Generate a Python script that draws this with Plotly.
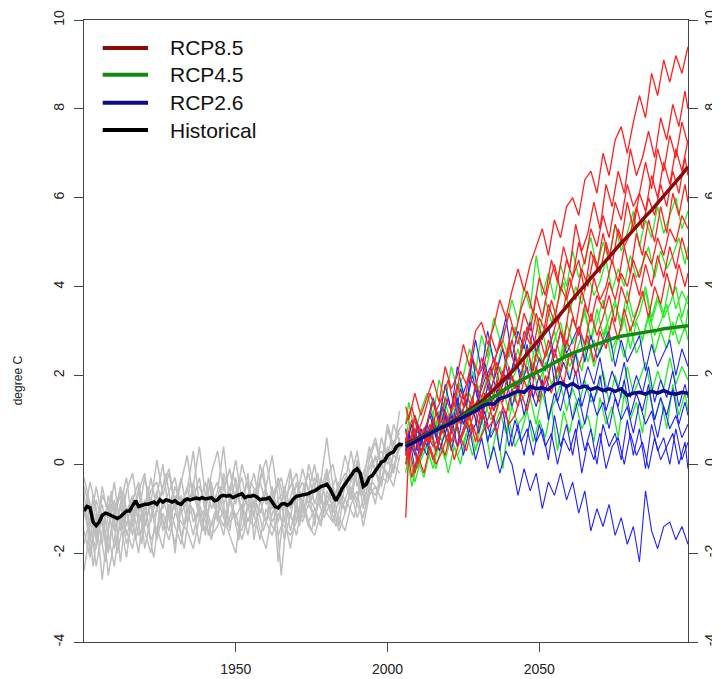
import plotly.graph_objects as go

# ---------------- data ----------------
hist_years = list(range(1900, 2006))
hist_mean = [
    -1.05, -0.95, -0.98, -1.30, -1.38, -1.30, -1.15, -1.10, -1.12, -1.15,
    -1.20, -1.22, -1.18, -1.10, -1.05, -1.05, -0.95, -0.82, -0.95, -0.92,
    -0.90, -0.90, -0.88, -0.85, -0.90, -0.80, -0.85, -0.80, -0.82, -0.85,
    -0.82, -0.88, -0.90, -0.82, -0.78, -0.80, -0.78, -0.76, -0.78, -0.75,
    -0.78, -0.76, -0.75, -0.82, -0.80, -0.72, -0.70, -0.72, -0.70, -0.75,
    -0.72, -0.68, -0.66, -0.75, -0.72, -0.72, -0.70, -0.74, -0.80, -0.78,
    -0.78, -0.75, -0.85, -0.95, -0.98, -0.90, -0.88, -0.92, -0.88, -0.78,
    -0.72, -0.70, -0.70, -0.68, -0.66, -0.62, -0.60, -0.55, -0.50, -0.48,
    -0.45, -0.55, -0.70, -0.82, -0.70, -0.55, -0.45, -0.35, -0.25, -0.15,
    -0.10, -0.20, -0.50, -0.45, -0.30, -0.25, -0.15, -0.05, 0.05, 0.08,
    0.20, 0.25, 0.28, 0.40, 0.45, 0.43,
]

hist_years_even = list(range(1900, 2005, 2))
hist_years_odd = list(range(1901, 2006, 2))
hist_members_even = [
    [-0.3, -0.9, -1.6, -0.5, -1.2, -0.4, -1.5, -0.6, -0.2, -1.1, -0.3, -0.9, 0.1, -0.7, -0.2, -1.0, -0.4, 0.2, -0.8, -0.3,
     -1.1, -0.2, 0.3, -0.6, -0.1, -0.9, 0.0, -0.5, -1.2, -0.3, 0.1, -0.7, -0.4, -1.3, -0.2, -0.8, -0.1, -0.6, 0.0, -0.9,
     -0.2, -1.1, -0.5, 0.2, -0.3, 0.3, -0.6, 0.1, 0.5, -0.1, 0.8, 0.3, 1.2],
    [-1.8, -1.2, -2.3, -1.5, -0.9, -1.9, -1.3, -2.1, -1.0, -1.6, -1.4, -0.8, -1.7, -1.1, -1.5, -0.7, -1.6, -1.2, -1.0, -1.8,
     -0.9, -1.4, -1.1, -1.6, -0.8, -1.3, -1.5, -0.9, -1.1, -1.7, -1.0, -1.4, -1.6, -1.2, -1.9, -1.0, -1.3, -0.9, -1.2, -0.7,
     -1.1, -1.3, -0.8, -1.0, -0.6, -0.9, -1.2, -0.5, -0.7, -0.3, -0.4, 0.0, -0.2],
    [-0.6, -2.0, -1.1, -2.6, -1.4, -0.8, -2.2, -1.0, -1.6, -0.5, -1.9, -1.2, -0.6, -1.5, -0.9, -2.0, -0.7, -1.3, -0.4, -1.1,
     -1.6, -0.5, -1.2, -0.3, -1.5, -0.6, -1.0, -0.2, -1.7, -0.8, -1.3, -0.5, -2.2, -0.9, -1.2, -0.4, -1.1, -0.6, -1.4, -0.3,
     -0.9, -0.5, -1.4, -0.4, -0.8, -0.1, -1.0, -0.3, 0.2, -0.4, 0.4, -0.2, 0.6],
    [-1.2, -0.4, -1.0, -1.8, -0.7, -1.5, -0.9, -0.3, -1.4, -0.6, -0.2, -1.3, -0.7, 0.0, -1.2, -0.5, -0.9, -0.6, 0.3, -0.9,
     -0.4, -1.0, -0.6, 0.4, -0.9, -0.3, -1.1, -0.7, -0.2, -0.9, -0.5, 0.2, -0.8, -0.6, -0.1, -1.3, -0.6, -0.2, -0.9, -0.4,
     0.6, -0.5, -0.9, -0.3, -0.7, 0.1, -0.4, 0.4, -0.2, 0.6, 0.1, 0.9, 0.5],
    [-2.4, -1.5, -1.9, -1.1, -2.5, -1.7, -0.9, -1.8, -1.3, -2.0, -0.8, -1.7, -1.4, -1.9, -0.9, -1.4, -1.8, -1.0, -1.6, -0.9,
     -1.3, -1.7, -0.8, -1.2, -1.6, -2.0, -0.9, -1.3, -0.8, -1.5, -1.9, -1.1, -0.8, -1.7, -1.1, -1.6, -0.8, -1.3, -1.0, -1.4,
     -0.7, -0.9, -1.5, -1.1, -0.6, -1.2, -0.8, -0.4, -0.9, 0.0, -0.3, 0.2, 0.1],
    [-0.9, -1.4, -0.5, -1.2, -1.9, -1.0, -0.6, -1.4, -0.8, -0.4, -1.2, -0.3, -1.0, -0.5, -0.1, -0.9, -0.3, -1.1, -0.5, 0.4,
     -0.7, -0.4, -1.3, -0.2, -0.6, 0.1, -0.8, -0.4, -1.0, 0.0, -0.6, -1.0, -0.3, -0.8, -0.5, -0.2, -1.0, 0.0, -0.5, -0.8,
     -0.3, 0.0, -0.7, -0.4, 0.3, -0.5, -0.2, 0.2, 0.6, 0.0, 0.9, 0.4, 0.8],
    [-1.5, -2.1, -1.3, -0.9, -1.6, -2.3, -1.2, -1.5, -1.9, -1.1, -1.5, -2.0, -1.0, -1.3, -1.7, -1.1, -1.3, -1.5, -1.9, -1.2,
     -1.0, -1.6, -1.4, -1.0, -1.3, -1.1, -1.7, -1.2, -1.4, -1.0, -1.3, -1.6, -1.1, -1.4, -1.6, -1.3, -0.9, -1.4, -1.6, -1.1,
     -0.8, -1.3, -1.2, -1.5, -0.9, -0.6, -1.4, -0.7, -0.5, -0.8, -0.2, -0.5, 0.2],
    [-0.5, -1.0, -1.7, -0.7, -1.0, -1.3, -0.5, -1.1, -0.7, -1.3, -1.0, -0.6, -0.4, -1.0, -0.6, -0.3, -1.1, -0.8, -0.6, -0.5,
     -0.9, -0.7, -0.4, -0.9, -0.5, -0.7, -0.3, -1.0, -0.6, -0.4, -0.9, -0.7, -1.3, -0.5, -1.0, -0.7, -0.4, -0.9, -0.3, -0.6,
     -0.1, -0.8, -0.5, -0.2, -0.4, 0.0, -0.7, -0.1, 0.1, 0.3, 0.0, 0.5, 0.7],
    [-1.0, -1.7, -0.8, -1.3, -2.0, -1.1, -0.7, -1.6, -1.2, -0.6, -1.4, -0.9, -1.6, -0.8, -1.2, -1.8, -1.0, -0.5, -1.3, -1.0,
     -1.5, -0.6, -1.1, -1.4, -0.7, -1.2, -0.9, -1.6, -0.8, -1.1, -0.6, -1.3, -1.0, -0.7, -1.5, -0.9, -1.2, -0.7, -1.0, -1.3,
     -0.6, -0.9, -0.4, -1.1, -0.5, -0.8, -0.3, -0.6, -0.1, -0.5, 0.3, -0.1, 0.4],
]
hist_members_odd = [
    [-1.9, -0.7, -1.4, -2.2, -0.9, -1.3, -0.6, -1.5, -0.9, -1.8, -0.5, -1.2, -0.8, -0.2, -1.1, -0.6, -1.4, -0.4, -0.9, -1.5,
     -0.3, -1.0, -0.5, -1.3, -0.2, -0.8, -1.4, -0.4, -0.7, -0.1, -1.1, -0.6, -0.3, -1.0, -0.5, -1.4, -0.4, -0.8, -0.2, -1.1,
     -0.7, -0.3, -1.0, -0.6, -0.1, -0.7, -0.2, 0.1, -0.4, 0.4, -0.1, 0.7, 0.9],
    [-0.8, -2.3, -1.2, -1.6, -0.6, -2.0, -1.3, -0.9, -1.7, -1.1, -1.4, -2.1, -1.0, -1.5, -0.7, -1.3, -1.9, -0.9, -1.2, -0.6,
     -1.6, -1.1, -0.8, -1.4, -1.0, -1.7, -0.7, -1.2, -0.9, -1.5, -1.1, -0.8, -2.5, -1.0, -1.3, -0.6, -1.1, -1.5, -0.8, -1.2,
     -0.9, -1.4, -0.7, -0.9, -1.2, -0.5, -0.9, -0.4, -0.6, -0.1, -0.3, 0.2, 0.5],
]

rcp_years_a = [2006] + list(range(2007, 2100, 2))
rcp_years_b = [2006] + list(range(2008, 2099, 2)) + [2099]

rcp85_mean = [0.45, 0.5, 0.55, 0.62, 0.7, 0.76, 0.82, 0.88, 0.95, 1.03, 1.12, 1.22, 1.32, 1.42, 1.55, 1.68,
              1.8, 1.94, 2.08, 2.24, 2.4, 2.56, 2.73, 2.9, 3.05, 3.22, 3.38, 3.55, 3.72, 3.88, 4.03, 4.2,
              4.36, 4.52, 4.68, 4.82, 4.98, 5.12, 5.28, 5.42, 5.58, 5.72, 5.88, 6.03, 6.2, 6.35, 6.52, 6.7]
rcp45_mean = [0.42, 0.45, 0.52, 0.6, 0.68, 0.75, 0.82, 0.88, 0.95, 1.0, 1.1, 1.18, 1.27, 1.35, 1.42, 1.5,
              1.6, 1.7, 1.78, 1.86, 1.93, 2.0, 2.06, 2.14, 2.22, 2.3, 2.38, 2.44, 2.5, 2.55, 2.62, 2.66,
              2.72, 2.75, 2.8, 2.85, 2.88, 2.9, 2.93, 2.96, 2.98, 3.0, 3.02, 3.05, 3.07, 3.08, 3.1, 3.12]
rcp26_mean = [0.4, 0.43, 0.5, 0.58, 0.66, 0.74, 0.8, 0.86, 0.93, 1.0, 1.08, 1.15, 1.2, 1.3, 1.36, 1.35,
              1.48, 1.52, 1.58, 1.65, 1.62, 1.75, 1.7, 1.72, 1.68, 1.8, 1.84, 1.75, 1.82, 1.72, 1.76, 1.68,
              1.73, 1.66, 1.7, 1.64, 1.7, 1.55, 1.6, 1.62, 1.58, 1.64, 1.6, 1.66, 1.6, 1.58, 1.62, 1.6]

rcp85_members_a = [
    [1.3, 1.0, 1.6, 1.1, 1.5, 1.9, 1.4, 2.2, 1.7, 2.0, 2.7, 2.2, 3.0, 3.2, 2.7, 3.1, 3.7, 3.3, 3.9, 4.4, 3.9, 4.5, 4.9, 5.3,
     4.7, 5.5, 5.1, 5.8, 6.0, 5.6, 6.4, 6.6, 6.1, 7.0, 6.5, 7.3, 7.6, 7.0, 7.7, 8.3, 7.8, 8.8, 8.3, 9.1, 8.6, 9.2, 8.8, 9.4],
    [-1.2, 0.3, 0.8, 0.2, 0.6, 1.0, 0.5, 1.2, 0.8, 1.1, 1.6, 1.0, 1.8, 1.5, 1.9, 2.4, 1.8, 2.3, 2.8, 2.2, 3.0, 2.7, 3.4, 2.8,
     3.6, 3.2, 4.0, 3.7, 4.2, 4.6, 3.9, 4.8, 4.4, 5.2, 4.6, 5.4, 5.0, 5.9, 5.3, 6.1, 5.7, 6.5, 6.0, 6.8, 6.3, 7.1, 6.6, 7.3],
    [0.0, 0.4, -0.2, 0.3, 0.6, 0.1, 0.5, 0.2, 0.8, 0.4, 0.7, 1.1, 0.5, 1.2, 0.8, 1.0, 1.5, 1.1, 1.7, 1.3, 1.9, 1.5, 2.2, 1.7,
     2.0, 2.6, 2.1, 2.8, 2.4, 3.1, 2.7, 3.4, 2.9, 3.3, 3.8, 3.2, 4.0, 3.6, 4.3, 3.8, 4.5, 4.0, 4.7, 4.2, 4.9, 4.4, 5.1, 4.6],
    [0.8, 0.3, 1.1, 0.7, 0.9, 1.4, 0.9, 1.5, 1.2, 1.8, 1.3, 2.0, 1.7, 2.4, 1.9, 2.2, 2.8, 2.4, 3.1, 2.7, 3.4, 3.0, 3.8, 3.3,
     4.0, 4.5, 3.9, 4.6, 4.2, 5.0, 4.5, 5.3, 4.9, 5.6, 5.1, 5.9, 5.5, 6.3, 5.8, 6.1, 6.8, 6.2, 7.1, 6.6, 7.4, 6.9, 7.7, 7.2],
    [0.3, 0.1, 0.6, 0.2, 0.7, 0.4, 0.6, 1.0, 0.5, 0.9, 1.2, 0.8, 1.3, 1.0, 1.6, 1.2, 1.8, 1.5, 2.0, 1.6, 2.3, 1.9, 2.5, 2.2,
     2.8, 2.4, 3.0, 2.7, 3.3, 2.9, 3.6, 3.2, 3.8, 3.5, 4.1, 3.7, 4.3, 4.0, 4.6, 4.2, 4.8, 4.5, 5.1, 4.7, 5.3, 5.0, 5.6, 5.3],
]
rcp85_members_b = [
    [0.9, 1.3, 0.7, 1.1, 1.6, 1.2, 1.5, 1.9, 1.3, 2.1, 1.8, 2.4, 2.0, 2.3, 2.9, 2.5, 2.8, 3.4, 2.9, 3.5, 3.9, 3.4, 4.2, 3.8,
     4.6, 4.1, 4.9, 4.4, 5.4, 4.8, 5.2, 5.9, 5.3, 6.3, 5.8, 6.6, 6.1, 7.1, 6.5, 6.9, 7.5, 6.9, 7.8, 7.3, 8.1, 7.6, 8.4, 8.0],
    [0.2, 0.7, 0.0, 0.5, 0.9, 0.3, 0.8, 0.5, 1.1, 0.6, 1.0, 1.5, 0.9, 1.6, 1.2, 1.9, 1.4, 2.2, 1.7, 2.0, 2.6, 2.1, 2.9, 2.4,
     2.8, 3.3, 2.7, 3.6, 3.1, 3.9, 3.4, 4.2, 3.7, 4.0, 4.6, 4.1, 4.9, 4.3, 5.2, 4.7, 5.5, 5.0, 5.8, 5.2, 6.1, 5.6, 6.3, 5.9],
    [0.6, -0.3, 0.2, -0.2, 0.4, 0.0, 0.3, 0.7, 0.1, 0.6, 0.3, 0.9, 0.5, 0.8, 1.2, 0.7, 1.3, 0.9, 1.1, 1.6, 1.2, 1.8, 1.4, 2.0,
     1.6, 2.2, 1.8, 2.5, 2.0, 2.4, 2.9, 2.3, 3.0, 2.6, 3.3, 2.8, 3.5, 3.0, 3.4, 3.9, 3.3, 4.0, 3.6, 4.3, 3.8, 4.5, 4.0, 4.3],
    [0.5, 1.0, 0.4, 0.8, 0.5, 1.2, 0.7, 1.0, 1.4, 0.9, 1.6, 1.2, 1.5, 2.1, 1.6, 2.3, 1.9, 2.7, 2.2, 2.5, 3.1, 2.6, 3.3, 3.0,
     3.7, 3.2, 3.5, 4.2, 3.7, 4.4, 4.0, 4.7, 4.3, 5.0, 4.5, 5.3, 4.9, 5.2, 5.8, 5.3, 6.0, 5.6, 6.3, 5.8, 6.6, 6.1, 6.9, 6.5],
]

rcp45_members_a = [
    [0.9, 1.4, 0.7, 1.2, 1.6, 1.1, 1.9, 1.4, 2.2, 1.7, 2.0, 2.6, 2.1, 2.9, 2.4, 3.3, 2.8, 3.1, 3.7, 3.2, 4.0, 3.5, 4.7, 3.8,
     4.3, 3.7, 4.5, 4.0, 4.8, 4.2, 4.6, 5.1, 4.4, 5.0, 4.6, 5.4, 4.8, 5.2, 5.7, 4.9, 5.5, 5.1, 5.8, 5.2, 5.6, 6.0, 5.3, 5.7],
    [0.6, 0.1, 0.7, 0.4, 0.9, 0.6, 1.2, 0.7, 1.0, 1.4, 0.9, 1.6, 1.2, 1.5, 2.0, 1.5, 2.2, 1.8, 2.1, 2.6, 2.0, 2.7, 2.3, 3.0,
     2.4, 2.8, 3.2, 2.6, 3.3, 2.9, 3.5, 2.8, 3.2, 3.7, 3.0, 3.6, 3.2, 3.9, 3.3, 3.6, 4.0, 3.3, 3.8, 3.4, 4.1, 3.5, 3.9, 3.6],
    [-0.2, 0.3, -0.4, 0.1, 0.4, -0.1, 0.5, 0.1, 0.6, 0.2, 0.5, 0.9, 0.3, 1.0, 0.6, 0.8, 1.2, 0.7, 1.3, 0.9, 1.1, 1.5, 0.9, 1.6,
     1.1, 1.4, 1.8, 1.2, 1.7, 1.3, 1.9, 1.4, 1.6, 2.1, 1.4, 2.0, 1.5, 2.2, 1.6, 1.9, 2.3, 1.6, 2.1, 1.7, 2.4, 1.8, 2.2, 1.9],
    [0.5, 1.0, 0.3, 0.8, 0.5, 1.1, 0.7, 1.4, 0.9, 1.2, 1.6, 1.1, 1.8, 1.4, 1.7, 2.2, 1.6, 2.4, 1.9, 2.2, 2.7, 2.1, 2.8, 2.3,
     2.6, 3.0, 2.4, 3.2, 2.7, 3.0, 3.4, 2.8, 3.5, 2.9, 3.3, 3.7, 3.0, 3.6, 3.1, 3.4, 3.9, 3.2, 3.7, 3.3, 3.6, 4.0, 3.3, 3.8],
]
rcp45_members_b = [
    [0.3, 0.9, 0.4, 0.7, 1.2, 0.8, 1.4, 1.0, 1.3, 1.8, 1.3, 2.1, 1.7, 2.0, 2.6, 2.1, 2.8, 2.4, 3.1, 2.6, 3.0, 3.5, 2.9, 3.7,
     3.2, 3.6, 4.1, 3.4, 4.0, 3.6, 4.3, 3.8, 4.1, 4.6, 3.9, 4.4, 4.0, 4.7, 4.2, 4.5, 4.9, 4.2, 4.8, 4.4, 4.7, 5.1, 4.5, 4.9],
    [0.1, 0.6, -0.1, 0.4, 0.7, 0.2, 0.8, 0.4, 1.0, 0.5, 0.9, 1.3, 0.7, 1.4, 1.0, 1.2, 1.7, 1.2, 1.9, 1.4, 1.7, 2.2, 1.5, 2.3,
     1.8, 2.1, 2.6, 1.9, 2.5, 2.1, 2.8, 2.2, 2.6, 3.0, 2.3, 2.9, 2.4, 3.1, 2.5, 2.8, 3.3, 2.5, 3.0, 2.6, 3.2, 2.7, 3.1, 2.8],
    [0.4, -0.5, 0.1, -0.3, 0.3, -0.1, 0.5, -0.2, 0.4, 0.0, 0.7, 0.2, 0.5, 0.9, 0.1, 0.8, -0.1, 1.0, 0.4, 0.7, 1.2, 0.5, 1.0, 0.6,
     1.3, 0.3, 1.2, 0.7, 1.4, 0.8, 1.1, 0.5, 1.5, 0.9, 1.3, 0.6, 1.6, 1.0, 1.4, 0.7, 1.7, 1.0, 1.5, 0.8, 1.8, 1.1, 1.6, 1.2],
    [0.2, 0.4, 0.8, 0.3, 0.6, 0.9, 0.5, 1.1, 0.7, 1.3, 0.8, 1.2, 1.5, 1.0, 1.7, 1.3, 1.6, 2.0, 1.4, 2.1, 1.7, 2.3, 1.9, 2.2,
     2.6, 1.9, 2.7, 2.2, 2.5, 2.9, 2.3, 2.8, 2.5, 3.1, 2.6, 2.9, 3.3, 2.6, 3.2, 2.8, 3.4, 2.9, 3.2, 3.6, 2.9, 3.4, 3.0, 3.5],
]

rcp26_members_a = [
    [0.3, 0.7, 0.2, 0.8, 0.4, 1.0, 0.5, 1.1, 0.3, 0.9, 0.2, 0.8, 0.1, 0.6, -0.1, 0.4, -0.2, 0.3, 0.0, -0.7, -0.1, -0.6, -0.2, -1.0,
     -0.4, -0.7, -0.2, -0.8, -0.4, -1.1, -0.6, -1.5, -1.0, -1.4, -0.9, -1.6, -1.2, -1.8, -1.4, -2.2, -0.6, -1.5, -1.9, -1.4, -1.3, -1.7, -1.4, -1.8],
    [0.8, 0.2, 1.1, 0.5, 0.9, 1.5, 1.0, 1.8, 1.2, 2.2, 1.6, 2.0, 2.8, 2.1, 3.0, 2.3, 2.7, 3.3, 2.4, 3.0, 2.6, 3.2, 2.5, 2.9,
     3.1, 2.4, 3.0, 2.5, 2.8, 3.1, 2.3, 2.9, 2.4, 2.7, 3.0, 2.2, 2.8, 2.3, 2.6, 2.9, 2.1, 2.7, 2.2, 2.5, 2.8, 2.0, 2.6, 2.2],
    [0.6, 0.1, 0.8, 0.3, 0.6, 1.0, 0.5, 1.2, 0.7, 1.5, 0.9, 1.3, 1.7, 1.0, 1.8, 1.2, 1.6, 2.0, 1.3, 1.8, 1.1, 1.7, 1.3, 1.9,
     1.0, 1.6, 1.2, 1.8, 1.0, 1.5, 0.9, 1.6, 1.1, 1.4, 0.8, 1.5, 1.0, 1.3, 0.7, 1.4, 0.9, 1.2, 0.6, 1.3, 0.8, 1.1, 0.6, 0.9],
    [0.2, 0.7, -0.1, 0.5, 0.2, 0.9, 0.3, 0.7, 1.1, 0.4, 1.2, 0.6, 0.9, 1.4, 0.5, 1.1, 0.3, 1.2, 0.4, 0.9, 0.2, 1.0, 0.5, 0.8,
     0.1, 1.1, 0.4, 0.9, 0.2, 1.0, 0.3, 0.8, 0.0, 0.9, 0.4, 0.7, 0.1, 1.0, 0.2, 0.8, -0.1, 0.9, 0.3, 0.6, 0.0, 0.8, 0.1, 0.5],
]
rcp26_members_b = [
    [0.0, 0.6, 0.1, 0.4, 0.8, 0.3, 0.9, 0.5, 1.1, 0.6, 1.0, 1.3, 0.7, 1.2, 0.6, 0.9, 1.2, 0.4, 1.0, 0.5, 0.8, 0.2, 0.9, 0.4,
     0.7, 0.0, 0.6, 0.3, 0.8, -0.2, 0.5, 0.1, 0.7, -0.1, 0.4, 0.6, 0.0, 0.7, 0.2, 0.5, -0.1, 0.6, 0.1, 0.4, 0.7, 0.0, 0.5, -0.1],
    [0.4, 0.9, 0.3, 0.7, 1.1, 0.6, 1.3, 0.9, 1.6, 1.1, 1.4, 2.0, 1.4, 2.3, 1.7, 2.1, 2.6, 1.9, 2.4, 2.0, 2.7, 1.9, 2.4, 2.1,
     2.6, 1.8, 2.3, 1.9, 2.5, 1.7, 2.2, 1.8, 2.4, 1.6, 2.1, 1.7, 2.3, 1.5, 2.0, 1.6, 2.2, 1.4, 1.9, 1.5, 2.1, 1.3, 1.8, 1.5],
    [0.5, 0.3, 0.9, 0.4, 1.2, 0.8, 1.0, 1.5, 0.9, 1.7, 1.3, 2.4, 1.5, 1.9, 2.2, 1.6, 2.1, 1.7, 2.5, 1.8, 2.2, 1.5, 2.0, 1.6,
     2.3, 1.4, 1.9, 1.5, 2.1, 1.3, 1.8, 1.4, 2.0, 1.2, 1.7, 1.3, 1.9, 1.1, 1.6, 1.2, 1.8, 1.0, 1.5, 1.1, 1.7, 0.9, 1.4, 1.1],
]

y_ticks = [-4, -2, 0, 2, 4, 6, 8, 10]
x_ticks = [1950, 2000, 2050]
legend_labels = ["RCP8.5", "RCP4.5", "RCP2.6", "Historical"]

# ---------------- styling ----------------
FONT = "Liberation Sans, Arial, Helvetica, sans-serif"
C_GRAY = "#BEBEBE"
C_R, C_G, C_B = "#FF2020", "#22EE22", "#2020FF"
M_R, M_G, M_B, M_H = "#8B0A0A", "#128A12", "#0A0A8B", "#000000"

fig = go.Figure()


def add_members(members, years, color, width):
    for vals in members:
        fig.add_trace(go.Scatter(x=years[:len(vals)], y=vals, mode="lines",
                                 line=dict(color=color, width=width),
                                 showlegend=False, hoverinfo="skip"))


add_members(hist_members_even, hist_years_even, C_GRAY, 1.5)
add_members(hist_members_odd, hist_years_odd, C_GRAY, 1.5)
add_members(rcp45_members_a, rcp_years_a, C_G, 1.3)
add_members(rcp45_members_b, rcp_years_b, C_G, 1.3)
add_members(rcp26_members_a, rcp_years_a, C_B, 1.1)
add_members(rcp26_members_b, rcp_years_b, C_B, 1.1)
add_members(rcp85_members_a, rcp_years_a, C_R, 1.3)
add_members(rcp85_members_b, rcp_years_b, C_R, 1.3)

# ensemble means drawn on the right-hand (overlaying) axis, which shares the same range
for xs, ys, col in [(hist_years, hist_mean, M_H), (rcp_years_a, rcp85_mean, M_R),
                    (rcp_years_a, rcp45_mean, M_G), (rcp_years_a, rcp26_mean, M_B)]:
    fig.add_trace(go.Scatter(x=xs, y=ys, mode="lines", yaxis="y2",
                             line=dict(color=col, width=3.5), showlegend=False))

# manual legend (R style, no box)
leg_colors = [M_R, M_G, M_B, M_H]
leg_y = [0.955, 0.912, 0.867, 0.823]
for lab, col, yy in zip(legend_labels, leg_colors, leg_y):
    fig.add_shape(type="line", xref="paper", yref="paper", x0=0.031, x1=0.106, y0=yy, y1=yy,
                  line=dict(color=col, width=4))
    fig.add_annotation(xref="paper", yref="paper", x=0.139, y=yy, text=lab, showarrow=False,
                       xanchor="left", yanchor="middle", font=dict(family=FONT, size=21, color="#111"))

# y-axis title
fig.add_annotation(xref="paper", yref="paper", x=-0.109, y=0.421, text="degree C", showarrow=False,
                   textangle=-90, xanchor="center", yanchor="middle",
                   font=dict(family=FONT, size=12, color="#222"))

axis_common = dict(showgrid=False, zeroline=False, showline=True, linecolor="#444", linewidth=1.2,
                   ticks="outside", ticklen=9, tickwidth=1.2, tickcolor="#444", automargin=False,
                   tickfont=dict(family=FONT, size=14, color="#222"))

# the page body adds an 8px offset, so margins are trimmed on the left/top
fig.update_layout(
    width=720, height=679,
    margin=dict(l=76, r=40, t=12, b=45),
    paper_bgcolor="white", plot_bgcolor="white",
    showlegend=False,
    xaxis=dict(range=[1900, 2099], tickvals=x_ticks, ticktext=[str(v) for v in x_ticks],
               mirror=True, ticklabelstandoff=5, **axis_common),
    yaxis=dict(range=[-4, 10], tickvals=y_ticks, ticktext=[str(v) for v in y_ticks],
               tickangle=-90, ticklabelstandoff=4, **axis_common),
    yaxis2=dict(range=[-4, 10], tickvals=y_ticks, ticktext=[str(v) for v in y_ticks],
                overlaying="y", side="right", anchor="x",
                tickangle=-90, ticklabelstandoff=0, **axis_common),
)

fig.write_html("out.html")
